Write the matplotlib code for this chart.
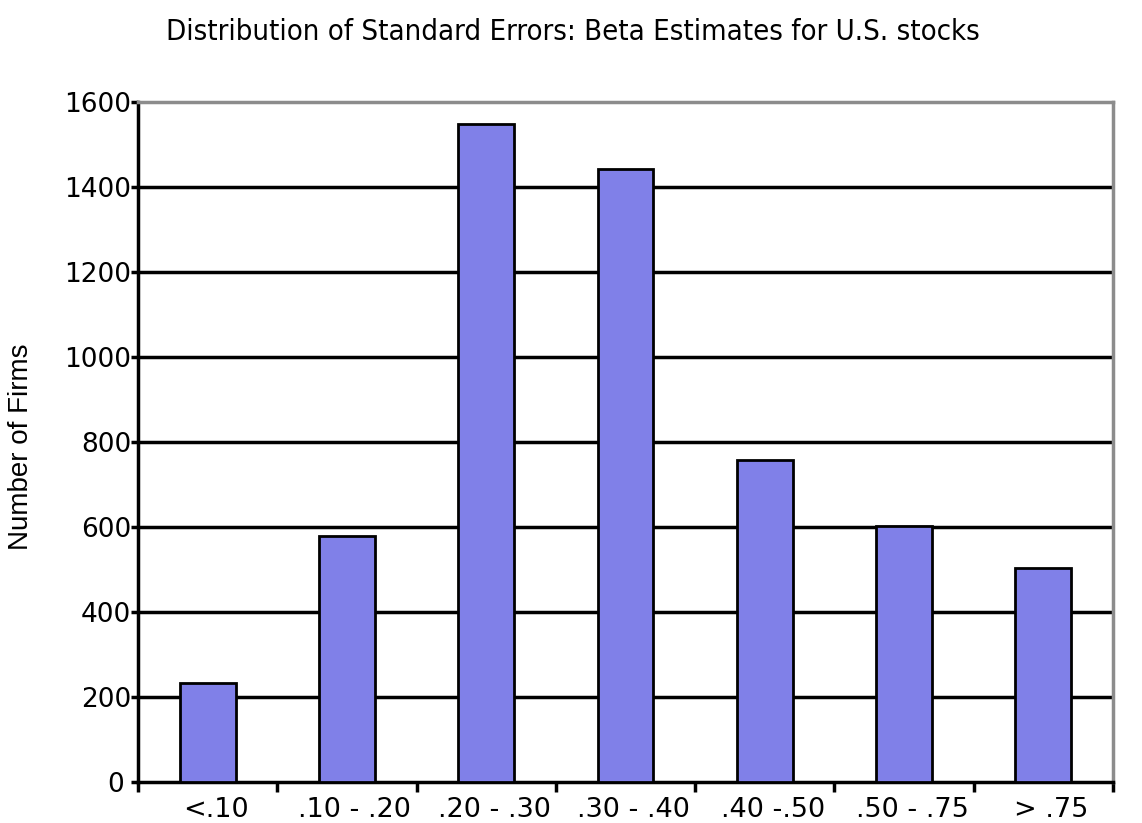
import matplotlib
matplotlib.use("Agg")
import matplotlib.pyplot as plt
import matplotlib.transforms as mtransforms
import numpy as np

categories = ["<.10", ".10 - .20", ".20 - .30", ".30 - .40", ".40 -.50", ".50 - .75", "> .75"]
values = [232, 578, 1548, 1443, 757, 602, 503]
yticks = [0, 200, 400, 600, 800, 1000, 1200, 1400, 1600]

fig = plt.figure(figsize=(11.42, 8.23), dpi=100)
W, H = 1142, 823
left, right, top, bottom = 138, 1113, 102, 782
ax = fig.add_axes([left / W, 1 - bottom / H, (right - left) / W, (bottom - top) / H])

x = np.arange(len(categories))
ax.bar(x, values, width=0.4, color="#8080E8", edgecolor="black", linewidth=2, zorder=3)

ax.set_xlim(-0.5, len(categories) - 0.5)
ax.set_ylim(0, 1600)
ax.set_yticks(yticks)
ax.set_yticklabels([str(v) for v in yticks], fontsize=19)
ax.set_xticks(x)
ax.set_xticklabels(categories, fontsize=19.5)
ax.tick_params(axis="x", length=0, pad=11)
ax.set_xticks(np.arange(-0.5, len(categories) + 0.5, 1), minor=True)
ax.tick_params(axis="x", which="minor", length=7, width=2.5, direction="out")
ax.tick_params(axis="y", length=5, width=2.5, direction="out", pad=0)

shift = mtransforms.ScaledTranslation(8 / 100, 0, fig.dpi_scale_trans)
for lab in ax.get_xticklabels():
    lab.set_transform(lab.get_transform() + shift)
zero_shift = mtransforms.ScaledTranslation(-7 / 100, 0, fig.dpi_scale_trans)
ylabs = ax.get_yticklabels()
ylabs[0].set_transform(ylabs[0].get_transform() + zero_shift)

for v in yticks[1:-1]:
    ax.axhline(v, color="black", linewidth=2.5, zorder=1)

for s in ["left", "bottom"]:
    ax.spines[s].set_linewidth(2.5)
    ax.spines[s].set_color("black")
for s in ["top", "right"]:
    ax.spines[s].set_linewidth(2.5)
    ax.spines[s].set_color("#8c8c8c")

ax.set_ylabel("Number of Firms", fontsize=20, family="Liberation Sans")
ax.yaxis.set_label_coords((34 - left) / (right - left), (bottom - 447) / (bottom - top))
fig.text(0.5 * (163 + 982) / W, 1 - 32 / H,
         "Distribution of Standard Errors: Beta Estimates for U.S. stocks",
         ha="center", va="center", fontsize=21, fontstretch="condensed",
         family="DejaVu Sans")

fig.savefig("out.png", dpi=100)
